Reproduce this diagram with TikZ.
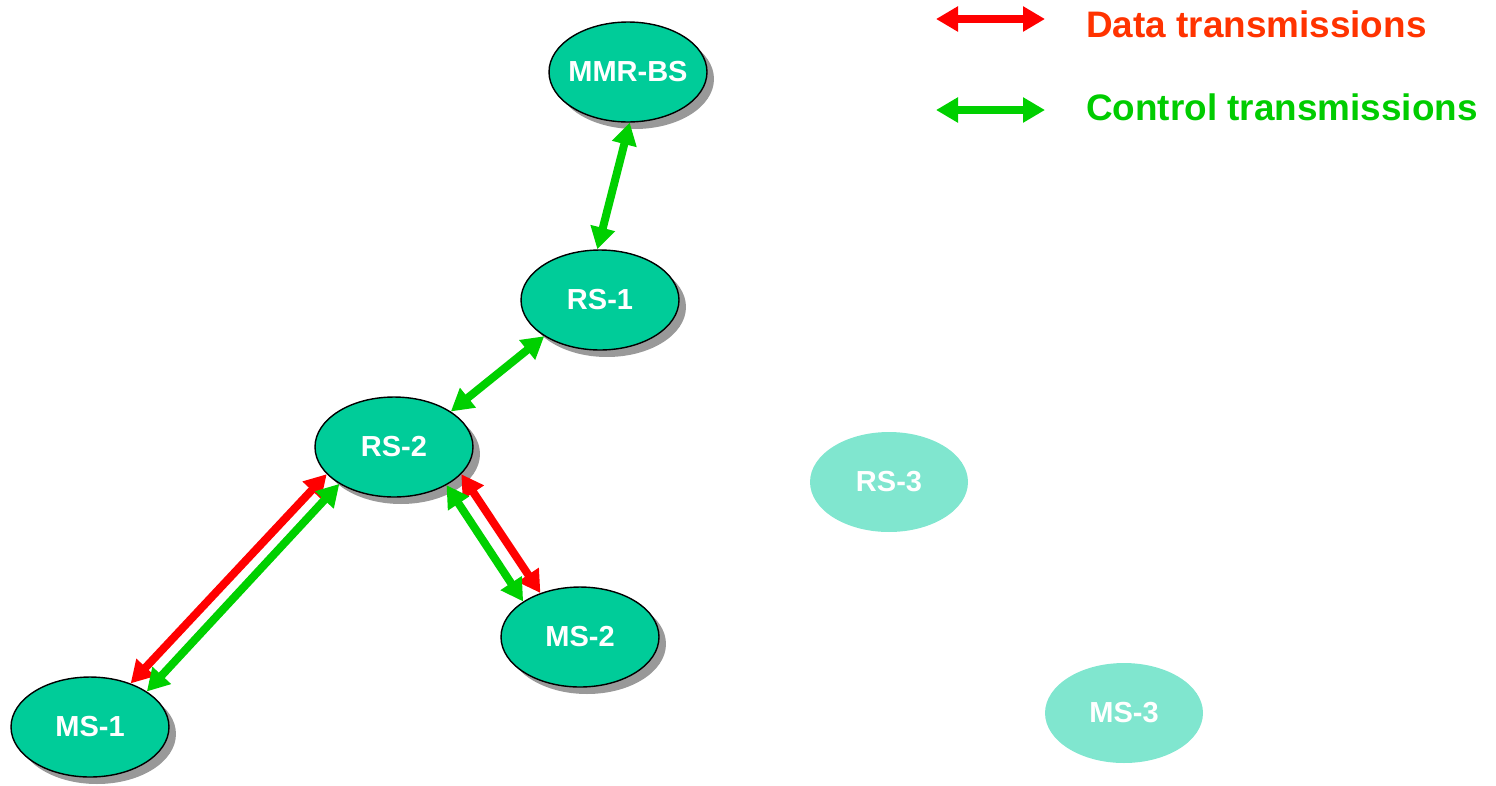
\documentclass[tikz,border=0pt]{standalone}
\usepackage{fontspec}
\setmainfont{Liberation Sans}
\usetikzlibrary{shapes.geometric,arrows.meta,shadows}
\definecolor{stationgreen}{HTML}{00CC99}
\definecolor{stationpale}{HTML}{80E6CF}
\definecolor{datared}{HTML}{FF0000}
\definecolor{ctrlgreen}{HTML}{00D000}
\definecolor{legendred}{HTML}{FF3300}
\definecolor{legendgreen}{HTML}{00CC00}

\begin{document}
\begin{tikzpicture}[x=0.02cm,y=-0.02cm,
  station/.style={ellipse,draw=black,line width=0.8pt,fill=stationgreen,
    minimum width=3.16cm,minimum height=2cm,inner xsep=-0.1cm,inner ysep=0pt,text=white,
    font=\fontsize{16.5}{20}\selectfont\bfseries,
    drop shadow={shadow xshift=0.14cm,shadow yshift=-0.14cm,fill=black!40,opacity=1}},
  idle/.style={ellipse,fill=stationpale,
    minimum width=3.16cm,minimum height=2cm,inner sep=0pt,text=white,
    font=\fontsize{16.5}{20}\selectfont\bfseries},
  link/.style={line width=0.16cm,
    {Triangle[length=0.44cm,width=0.48cm]}-{Triangle[length=0.44cm,width=0.48cm]}},
  data/.style={link,draw=datared},
  ctrl/.style={link,draw=ctrlgreen},
  legend/.style={anchor=base west,font=\fontsize{21}{25}\selectfont\bfseries}]
\useasboundingbox (0,0) rectangle (1496,785);

% stations
\node[station] (mmr) at (628,72) {MMR-BS};
\node[station] (rs1) at (600,300) {RS-1};
\node[station] (rs2) at (394,447) {RS-2};
\node[station] (ms2) at (580,637) {MS-2};
\node[station] (ms1) at (90,727) {MS-1};
\node[idle] (rs3) at (889,482) {RS-3};
\node[idle] (ms3) at (1124,713) {MS-3};

% links
\draw[ctrl] (mmr.-88) -- (rs1.93);
\draw[ctrl] (rs1.213) -- (rs2.32);
\draw[data] (rs2.202) -- (ms1.47);
\draw[ctrl] (rs2.214) -- (ms1.32);
\draw[data] (rs2.-22) -- (ms2.132);
\draw[ctrl] (rs2.-36) -- (ms2.148);

% legend
\coordinate (dataL) at (936,19);
\coordinate (dataR) at (1045,19);
\coordinate (ctrlL) at (936,110);
\coordinate (ctrlR) at (1045,110);
\draw[data] (dataL) -- (dataR);
\draw[ctrl] (ctrlL) -- (ctrlR);
\node[legend,text=legendred] (datatext) at (1080,37) {Data transmissions};
\node[legend,text=legendgreen] (ctrltext) at (1080,120) {Control transmissions};
\end{tikzpicture}
\end{document}
